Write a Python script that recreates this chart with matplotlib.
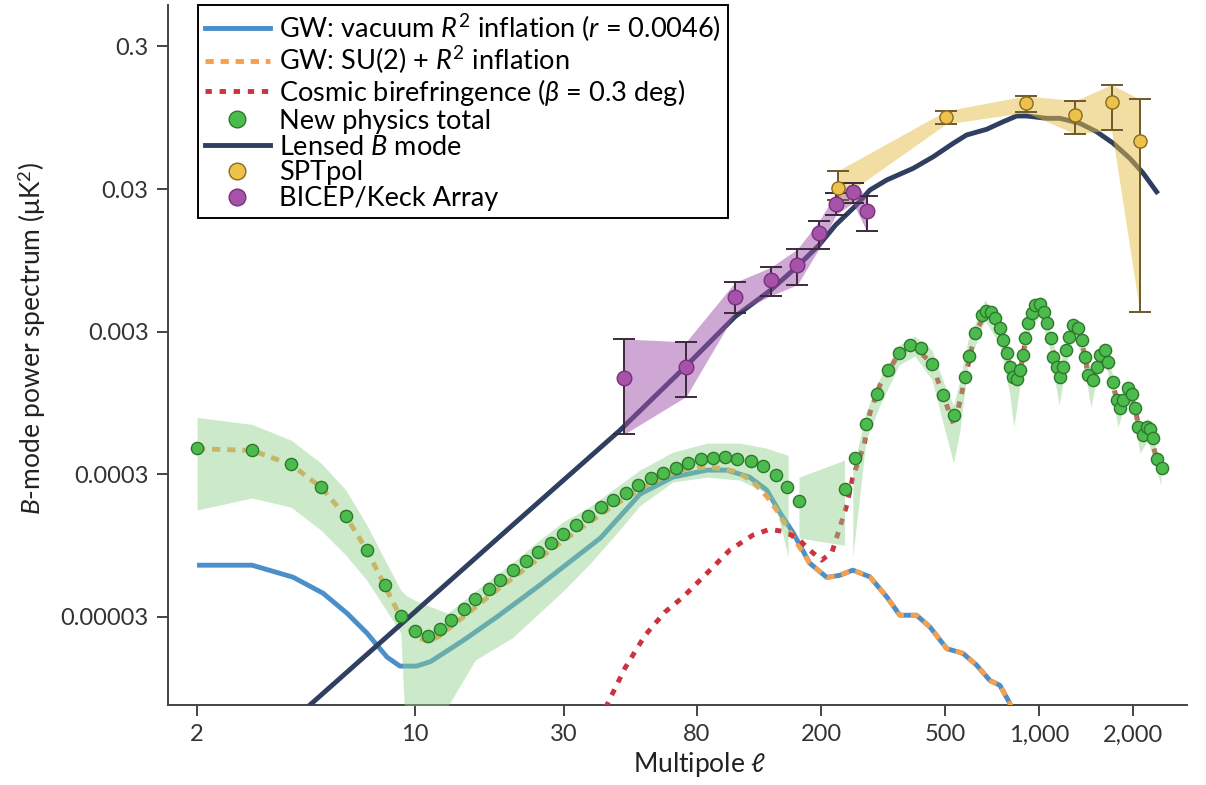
import matplotlib.pyplot as plt
from matplotlib.lines import Line2D
import numpy as np

plt.rcParams['font.family'] = ['Lato', 'DejaVu Sans']
plt.rcParams['mathtext.fontset'] = 'custom'
plt.rcParams['mathtext.rm'] = 'Lato'
plt.rcParams['mathtext.it'] = 'Lato:italic'

# lensed B mode (LCDM)
lens_ell = [4.5, 10, 20, 45.4, 73.3, 106, 138, 167.5, 197, 223, 260, 287, 325, 395,
            458, 531, 586, 679, 768, 848, 913, 1058, 1167, 1352, 1530, 1729, 1956,
            2158, 2382]
lens_cl = [6.9e-6, 3.25e-5, 1.25e-4, 6.1e-4, 1.69e-3, 3.81e-3, 5.86e-3, 8.55e-3,
           0.0121, 0.0168, 0.0232, 0.0295, 0.0347, 0.0419, 0.0505, 0.0628, 0.0718,
           0.0787, 0.089, 0.0976, 0.0976, 0.094, 0.094, 0.0867, 0.0757, 0.0628,
           0.0492, 0.0387, 0.0287]

# GW from vacuum fluctuations, R^2 inflation
vac_ell = [2, 3, 4.06, 5.07, 6.05, 7.01, 8.13, 8.94, 10.1, 11.2, 14.3, 18.3, 25.1,
           39.3, 52.6, 67.1, 86.2, 99.9, 118, 134, 148, 163, 184, 209, 230, 253,
           287, 325, 358, 405, 447, 506, 570, 631, 696, 749, 801, 837]
vac_cl = [6.89e-5, 6.89e-5, 5.68e-5, 4.38e-5, 3.17e-5, 2.30e-5, 1.56e-5, 1.35e-5,
          1.35e-5, 1.45e-5, 2.05e-5, 2.99e-5, 4.99e-5, 1.07e-4, 2.17e-4, 2.86e-4,
          3.20e-4, 3.20e-4, 2.86e-4, 2.32e-4, 1.60e-4, 1.16e-4, 7.12e-5, 5.65e-5,
          5.86e-5, 6.36e-5, 5.71e-5, 4.13e-5, 3.07e-5, 3.07e-5, 2.54e-5, 1.79e-5,
          1.66e-5, 1.37e-5, 1.07e-5, 9.9e-6, 7.6e-6, 6.1e-6]

# SU(2) sourced GW + R^2; identical to vacuum above l~180
su2_ell_low = [2, 3, 4, 5, 6, 7, 8, 9, 10, 11, 12, 14.3, 18.7, 24.8, 32.7, 43.2,
               56.9, 67, 76, 86, 96, 108, 121, 134, 144.5, 159]
su2_cl_low = [4.52e-4, 4.4e-4, 3.5e-4, 2.42e-4, 1.52e-4, 8.8e-5, 4.95e-5, 2.95e-5,
              2.2e-5, 2.0e-5, 2.2e-5, 3.0e-5, 4.8e-5, 7.6e-5, 1.18e-4, 1.8e-4,
              2.6e-4, 3.05e-4, 3.3e-4, 3.35e-4, 3.3e-4, 3.1e-4, 2.65e-4, 2.1e-4,
              1.67e-4, 1.18e-4]

# cosmic birefringence, beta = 0.3 deg
bire_ell = [40, 41.2, 47.1, 54.6, 63.2, 72.2, 86.2, 102, 121, 137, 151, 168, 184,
            201, 217, 230, 242, 253, 275, 287, 309, 356, 395, 453, 491, 535, 579,
            623, 676, 722, 768, 807, 840, 880, 923, 985, 1037, 1089, 1160, 1220,
            1300, 1369, 1438, 1480, 1568, 1627, 1722, 1800, 1932, 2030, 2120, 2230,
            2382, 2472]
bire_cl = [5.5e-6, 7.2e-6, 1.31e-5, 2.22e-5, 3.23e-5, 4.11e-5, 6.05e-5, 8.79e-5,
           1.12e-4, 1.23e-4, 1.19e-4, 1.07e-4, 8.79e-5, 7.47e-5, 8.5e-5, 1.27e-4,
           1.82e-4, 2.86e-4, 4.79e-4, 8.04e-4, 1.26e-3, 2.11e-3, 2.4e-3, 1.79e-3,
           1.1e-3, 6.5e-4, 1.4e-3, 2.9e-3, 4.1e-3, 3.7e-3, 2.6e-3, 1.7e-3, 1.3e-3,
           1.8e-3, 3.4e-3, 4.6e-3, 4.1e-3, 2.7e-3, 1.35e-3, 2.2e-3, 3.3e-3, 2.6e-3,
           1.5e-3, 1.3e-3, 2.0e-3, 2.2e-3, 1.33e-3, 8.5e-4, 1.2e-3, 8.7e-4, 5.5e-4,
           6.4e-4, 3.9e-4, 3.3e-4]

# new physics total
tot_ell = [2, 3, 4, 5, 6, 7, 8, 9, 10, 11, 12,
           13.0, 14.3, 15.6, 17.2, 18.7, 20.6, 22.6, 24.8, 27.2, 29.9, 32.7, 35.9,
           39.3, 43.2, 47.3, 51.9, 56.9, 62.2, 68.4, 75.1, 82.3, 89.9, 98.7, 108,
           119, 130, 143, 156, 170,
           238, 258, 279, 302, 329, 356, 386, 418, 453, 491, 534, 579, 597, 623,
           655, 676, 700, 722, 749, 768, 787, 807, 827, 848, 869, 886, 901, 923,
           947, 970, 1007, 1037, 1062, 1089, 1111, 1139, 1167, 1191, 1220, 1250,
           1287, 1336, 1369, 1404, 1438, 1492, 1530, 1568, 1627, 1667, 1722, 1774,
           1817, 1862, 1932, 1981, 2030, 2080, 2148, 2212, 2267, 2323, 2382, 2472]
tot_cl = [4.54e-4, 4.41e-4, 3.51e-4, 2.42e-4, 1.52e-4, 8.79e-5, 4.97e-5, 3.02e-5,
          2.37e-5, 2.21e-5, 2.44e-5,
          2.83e-5, 3.39e-5, 3.96e-5, 4.66e-5, 5.41e-5, 6.36e-5, 7.35e-5, 8.55e-5,
          9.88e-5, 1.14e-4, 1.32e-4, 1.52e-4, 1.75e-4, 1.97e-4, 2.22e-4, 2.51e-4,
          2.80e-4, 3.03e-4, 3.32e-4, 3.60e-4, 3.80e-4, 3.90e-4, 3.93e-4, 3.86e-4,
          3.70e-4, 3.40e-4, 2.94e-4, 2.43e-4, 1.95e-4,
          2.35e-4, 3.90e-4, 6.76e-4, 1.09e-3, 1.61e-3, 2.11e-3, 2.41e-3, 2.31e-3,
          1.79e-3, 1.07e-3, 7.78e-4, 1.45e-3, 2.02e-3, 2.91e-3, 3.92e-3, 4.20e-3,
          4.13e-3, 3.72e-3, 3.16e-3, 2.61e-3, 2.11e-3, 1.70e-3, 1.45e-3, 1.39e-3,
          1.61e-3, 2.05e-3, 2.69e-3, 3.43e-3, 4.03e-3, 4.60e-3, 4.68e-3, 4.13e-3,
          3.43e-3, 2.69e-3, 2.00e-3, 1.70e-3, 1.45e-3, 1.70e-3, 2.22e-3, 2.76e-3,
          3.33e-3, 3.16e-3, 2.61e-3, 2.00e-3, 1.49e-3, 1.37e-3, 1.70e-3, 2.05e-3,
          2.22e-3, 1.84e-3, 1.33e-3, 9.91e-4, 8.67e-4, 9.91e-4, 1.20e-3, 1.10e-3,
          8.67e-4, 6.44e-4, 5.64e-4, 6.44e-4, 6.2e-4, 5.34e-4, 3.86e-4, 3.29e-4]

# uncertainty band on the total, in three pieces
band_a_ell = [2, 3, 4, 5, 6, 7, 8, 9, 9.4, 10, 12.7, 15.6, 20.6, 25, 30, 36, 45,
              52.5, 67, 86.5, 110, 134, 145, 157]
band_a_lo = [1.68e-4, 2.04e-4, 1.76e-4, 1.21e-4, 8.1e-5, 5.4e-5, 3.44e-5, 2.3e-5,
             3e-6, 2e-6, 7e-6, 1.49e-5, 2.15e-5, 3.18e-5, 4.6e-5, 6.9e-5, 1.2e-4,
             1.8e-4, 2.64e-4, 2.86e-4, 2.72e-4, 2.21e-4, 1.6e-4, 7.9e-5]
band_a_hi = [7.5e-4, 6.7e-4, 5.2e-4, 3.58e-4, 2.32e-4, 1.32e-4, 7.5e-5, 4.6e-5,
             4.2e-5, 3.9e-5, 3.17e-5, 4.53e-5, 7.2e-5, 1.03e-4, 1.4e-4, 1.75e-4,
             2.5e-4, 3.2e-4, 4.28e-4, 4.95e-4, 4.95e-4, 4.56e-4, 4.3e-4, 4.07e-4]
band_b_ell = [170, 238]
band_b_lo = [1.07e-4, 9.5e-5]
band_b_hi = [2.86e-4, 3.76e-4]
band_c_ell = [253, 279, 309, 356, 400, 454, 499, 532, 558, 592, 671, 749, 807, 830,
              869, 935, 1007, 1084, 1160, 1220, 1287, 1372, 1467, 1545, 1627, 1713,
              1790, 1885, 1985, 2105, 2234, 2382, 2459]
band_c_lo = [7.9e-5, 5.2e-4, 9.1e-4, 1.75e-3, 2.02e-3, 1.37e-3, 6.1e-4, 3.58e-4,
             6.1e-4, 1.75e-3, 3.61e-3, 2.41e-3, 1.07e-3, 6.4e-4, 1.26e-3, 3.07e-3,
             3.92e-3, 2.22e-3, 9.1e-4, 1.75e-3, 2.83e-3, 2.05e-3, 8.85e-4, 1.56e-3,
             1.89e-3, 1.13e-3, 6.4e-4, 9.1e-4, 9.1e-4, 4.2e-4, 5.2e-4, 3.2e-4, 2.51e-4]
band_c_hi = [3.2e-4, 8.2e-4, 1.42e-3, 2.41e-3, 2.79e-3, 2.22e-3, 1.26e-3, 9.1e-4,
             1.37e-3, 2.61e-3, 4.99e-3, 3.61e-3, 2.05e-3, 1.49e-3, 1.89e-3, 4.39e-3,
             5.32e-3, 3.07e-3, 1.75e-3, 2.41e-3, 3.72e-3, 2.83e-3, 1.61e-3, 2.05e-3,
             2.49e-3, 1.56e-3, 9.9e-4, 1.26e-3, 1.26e-3, 6.6e-4, 7.4e-4, 4.4e-4, 3.58e-4]

# BICEP/Keck Array bandpowers
bk_ell = [46.8, 73.9, 106, 138, 168, 197, 223, 253, 280]
bk_cl = [1.42e-3, 1.70e-3, 5.26e-3, 6.89e-3, 8.79e-3, 0.0148, 0.0235, 0.0284, 0.0211]
bk_hi = [2.66e-3, 2.54e-3, 6.64e-3, 8.46e-3, 0.01137, 0.0178, 0.028, 0.0329, 0.0268]
bk_lo = [5.72e-4, 1.05e-3, 4.02e-3, 5.35e-3, 6.39e-3, 0.01143, 0.0197, 0.024, 0.0153]

# SPTpol bandpowers
spt_ell = [227, 503, 906, 1306, 1709, 2105]
spt_cl = [0.0307, 0.0955, 0.121, 0.0996, 0.1217, 0.0651]
spt_hi = [0.0404, 0.106, 0.135, 0.125, 0.1618, 0.1278]
spt_lo = [0.0251, 0.0857, 0.1035, 0.0730, 0.0778, 0.00409]

xticks = [2, 10, 30, 80, 200, 500, 1000, 2000]
xticklabels = ['2', '10', '30', '80', '200', '500', '1,000', '2,000']
yticks = [3e-5, 3e-4, 3e-3, 0.03, 0.3]
yticklabels = ['0.00003', '0.0003', '0.003', '0.03', '0.3']

c_vac = '#4a8fca'
c_su2 = '#f6a04d'
c_bire = '#c9343f'
c_lens = '#2e3f5f'
c_green = '#4cba4c'
c_green_edge = '#2b7a2b'
c_band = '#8fd18a'
c_bk = '#a552a8'
c_bk_edge = '#7a2f7e'
c_spt = '#ecc24c'
c_spt_edge = '#8a6a1c'

fig = plt.figure(figsize=(12.06, 7.85), dpi=100)
ax = fig.add_axes([0.1393, 0.1019, 0.8449, 0.8917])
ax.set_xscale('log')
ax.set_yscale('log')

lw = 3.5
ax.plot(vac_ell, vac_cl, color=c_vac, lw=lw, zorder=2, solid_capstyle='butt')
tail = [(l, c) for l, c in zip(vac_ell, vac_cl) if l >= 180]
su2_ell = su2_ell_low + [t[0] for t in tail]
su2_cl = su2_cl_low + [t[1] for t in tail]
ax.plot(su2_ell, su2_cl, color=c_su2, lw=lw, ls=(0, (1.7, 1.4)), zorder=3)
ax.plot(bire_ell, bire_cl, color=c_bire, lw=lw, ls=(0, (1.3, 1.6)), zorder=3)

for bl, blo, bhi in [(band_a_ell, band_a_lo, band_a_hi),
                     (band_b_ell, band_b_lo, band_b_hi),
                     (band_c_ell, band_c_lo, band_c_hi)]:
    ax.fill_between(bl, blo, bhi, color=c_band, alpha=0.45, lw=0, zorder=4)

ax.plot(lens_ell, lens_cl, color=c_lens, lw=lw, zorder=5)

ax.fill_between(bk_ell, bk_lo, bk_hi, color='#a050aa', alpha=0.5, lw=0, zorder=6)
ax.fill_between(spt_ell, spt_lo, spt_hi, color='#e6be46', alpha=0.5, lw=0, zorder=6)

bk_cl_a = np.array(bk_cl)
ax.errorbar(bk_ell, bk_cl, yerr=[bk_cl_a - np.array(bk_lo), np.array(bk_hi) - bk_cl_a],
            fmt='none', ecolor='#3a2a3a', elinewidth=1.4, capsize=8, capthick=1.4, zorder=7)
spt_cl_a = np.array(spt_cl)
ax.errorbar(spt_ell, spt_cl, yerr=[spt_cl_a - np.array(spt_lo), np.array(spt_hi) - spt_cl_a],
            fmt='none', ecolor='#6b5a2a', elinewidth=1.4, capsize=8, capthick=1.4, zorder=7)

ax.plot(tot_ell, tot_cl, ls='none', marker='o', ms=8.8, mfc=c_green, mec=c_green_edge,
        mew=1.0, zorder=8)
ax.plot(bk_ell, bk_cl, ls='none', marker='o', ms=10.5, mfc=c_bk, mec=c_bk_edge,
        mew=1.0, zorder=8)
ax.plot(spt_ell, spt_cl, ls='none', marker='o', ms=9.5, mfc=c_spt, mec=c_spt_edge,
        mew=1.0, zorder=8)

ax.set_xlim(1.614, 2980)
ax.set_ylim(7.2e-6, 0.586)
ax.set_xticks(xticks)
ax.set_xticklabels(xticklabels)
ax.set_yticks(yticks)
ax.set_yticklabels(yticklabels)
ax.minorticks_off()
ax.tick_params(direction='out', length=8, width=1.4, color='#444444',
               labelsize=17, labelcolor='#333333', pad=6)
for side in ['top', 'right']:
    ax.spines[side].set_visible(False)
for side in ['left', 'bottom']:
    ax.spines[side].set_color('#444444')
    ax.spines[side].set_linewidth(1.4)

ax.set_xlabel('Multipole $\\ell$', fontsize=19, color='#222222')
ax.set_ylabel('$B$-mode power spectrum (μK$^2$)', fontsize=19, color='#222222')
ax.xaxis.set_label_coords(0.522, -0.064)
ax.yaxis.set_label_coords(-0.118, 0.524)

handles = [
    Line2D([], [], color=c_vac, lw=lw),
    Line2D([], [], color=c_su2, lw=lw, ls=(0, (1.7, 1.4))),
    Line2D([], [], color=c_bire, lw=lw, ls=(0, (1.3, 1.6))),
    Line2D([], [], ls='none', marker='o', ms=12, mfc=c_green, mec=c_green_edge),
    Line2D([], [], color=c_lens, lw=lw),
    Line2D([], [], ls='none', marker='o', ms=12, mfc=c_spt, mec=c_spt_edge),
    Line2D([], [], ls='none', marker='o', ms=12, mfc=c_bk, mec=c_bk_edge),
]
labels = [
    'GW: vacuum $R^2$ inflation ($r$ = 0.0046)',
    'GW: SU(2) + $R^2$ inflation',
    'Cosmic birefringence ($\\beta$ = 0.3 deg)',
    'New physics total',
    'Lensed $B$ mode',
    'SPTpol',
    'BICEP/Keck Array',
]
leg = ax.legend(handles, labels, loc='upper left', bbox_to_anchor=(198 / 1206, 1 - 5 / 785),
                bbox_transform=fig.transFigure, borderaxespad=0, fontsize=19.5,
                labelspacing=0.03, borderpad=0.25, handlelength=2.4, handletextpad=0.35,
                fancybox=False, framealpha=1, edgecolor='black')
leg.get_frame().set_linewidth(1.4)
leg.set_zorder(10)

fig.savefig('out.png', dpi=100)
